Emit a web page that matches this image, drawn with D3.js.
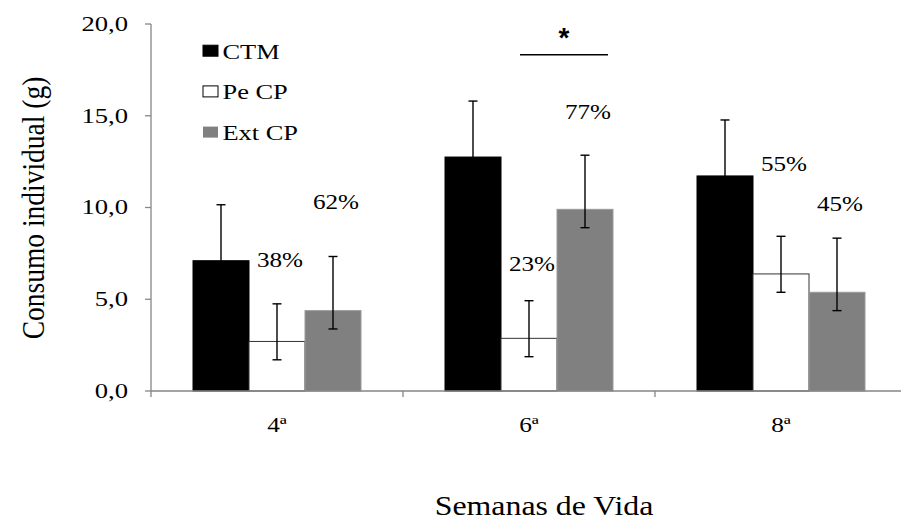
<!DOCTYPE html>
<html>
<head>
<meta charset="utf-8">
<script src="https://cdn.jsdelivr.net/npm/d3@7/dist/d3.min.js"></script>
<style>
	body { margin: 0; background: #fff; }
</style>
</head>
<body>
<div id="chart"></div>
<script>
// data
var weeks = ["4ª", "6ª", "8ª"];
var series = ["CTM", "Pe CP", "Ext CP"];
var ctm = [7.1, 12.75, 11.72];
var peCP = [2.7, 2.87, 6.38];
var extCP = [4.38, 9.9, 5.38];
var errUp = [3.05, 2.05, 2.95];    // per series
var errDown = [3.05, 1.0, 1.0];
var yTicks = [0, 5, 10, 15, 20];

// percent annotations
var pctText = ["38%", "62%", "23%", "77%", "55%", "45%"];
var pctWeek = ["4ª", "4ª", "6ª", "6ª", "8ª", "8ª"];
var pctSeries = ["Pe CP", "Ext CP", "Pe CP", "Ext CP", "Pe CP", "Ext CP"];
var pctValue = [6.77, 9.92, 6.54, 14.82, 12.0, 9.81];

var values = [ctm, peCP, extCP];
var colours = {"CTM": "#000000", "Pe CP": "#ffffff", "Ext CP": "#808080"};

var W = 901, H = 522;
var serif = "'Liberation Serif', 'Times New Roman', serif";

var svg = d3.select("#chart").append("svg")
	.attr("width", W)
	.attr("height", H)
	.attr("font-family", serif);

var x0 = d3.scaleBand()
	.domain(weeks)
	.range([151, 907]);

var x1 = d3.scaleBand()
	.domain(series)
	.range([0, x0.bandwidth()])
	.paddingOuter(0.75);

var y = d3.scaleLinear()
	.domain([0, 20])
	.range([391, 24]);

var axisCol = "#868686";

// stretched text helper (the picture is wider than tall)
function stext(g, x, yy, str, size, sx, anchor) {
	return g.append("text")
		.attr("transform", "translate(" + x + "," + yy + ") scale(" + sx + ",1)")
		.attr("text-anchor", anchor || "middle")
		.attr("font-family", serif)
		.attr("font-size", size)
		.attr("fill", "#000")
		.text(str);
}

// y axis
var yAxis = svg.append("g");
yAxis.append("line")
	.attr("x1", 151).attr("x2", 151)
	.attr("y1", y(20)).attr("y2", y(0))
	.attr("stroke", axisCol).attr("stroke-width", 1.3);
yTicks.forEach(function(t) {
	yAxis.append("line")
		.attr("x1", 145).attr("x2", 151)
		.attr("y1", y(t)).attr("y2", y(t))
		.attr("stroke", axisCol).attr("stroke-width", 1.3);
	stext(yAxis, 128, y(t) + 6.8, t.toFixed(1).replace(".", ","), 20.5, 1.3, "end");
});

// bars
var groups = svg.selectAll(".grp")
	.data(weeks)
	.enter().append("g")
		.attr("class", "grp")
		.attr("transform", function(d) { return "translate(" + x0(d) + ",0)"; });

groups.selectAll("rect")
	.data(function(d, i) { return series.map(function(s, j) { return {s: s, v: values[j][i], j: j}; }); })
	.enter().append("rect")
		.attr("x", function(d) { return x1(d.s); })
		.attr("width", x1.bandwidth())
		.attr("y", function(d) { return y(d.v); })
		.attr("height", function(d) { return y(0) - y(d.v); })
		.attr("fill", function(d) { return colours[d.s]; })
		.attr("stroke", function(d) { return d.s == "Pe CP" ? "#333" : (d.s == "CTM" ? "#000" : "#9a9a9a"); })
		.attr("stroke-width", 1);

// error bars
groups.selectAll(".err")
	.data(function(d, i) { return series.map(function(s, j) { return {s: s, v: values[j][i], j: j}; }); })
	.enter().append("g")
		.attr("class", "err")
		.each(function(d) {
			var g = d3.select(this),
				cx = x1(d.s) + x1.bandwidth() / 2,
				top = y(d.v + errUp[d.j]),
				bot = y(d.v - errDown[d.j]);
			g.append("line").attr("x1", cx).attr("x2", cx).attr("y1", top).attr("y2", bot);
			g.append("line").attr("x1", cx - 4.5).attr("x2", cx + 4.5).attr("y1", top).attr("y2", top);
			g.append("line").attr("x1", cx - 4.5).attr("x2", cx + 4.5).attr("y1", bot).attr("y2", bot);
			g.selectAll("line").attr("stroke", "#000").attr("stroke-width", 1.4);
		});

// x axis (drawn after bars)
var xAxis = svg.append("g");
xAxis.append("line")
	.attr("x1", 151).attr("x2", 907)
	.attr("y1", y(0)).attr("y2", y(0))
	.attr("stroke", axisCol).attr("stroke-width", 1.3);
weeks.concat(["end"]).forEach(function(w, i) {
	var xx = i < weeks.length ? x0(w) : x0(weeks[weeks.length - 1]) + x0.bandwidth();
	xAxis.append("line")
		.attr("x1", xx).attr("x2", xx)
		.attr("y1", y(0)).attr("y2", y(0) + 6)
		.attr("stroke", axisCol).attr("stroke-width", 1.3);
});
weeks.forEach(function(w) {
	stext(xAxis, x0(w) + x0.bandwidth() / 2, 432, w, 22, 1.15, "middle");
});

// percent labels
pctText.forEach(function(t, i) {
	var cx = x0(pctWeek[i]) + x1(pctSeries[i]) + x1.bandwidth() / 2;
	stext(svg, cx + 3, y(pctValue[i]), t, 21.5, 1.17, "middle");
});

// significance mark over 6ª
var sig = svg.append("g");
var sx0 = x0("6ª") + x1("Pe CP") + x1.bandwidth() / 2 - 9,
	sx1 = x0("6ª") + x1("Ext CP") + x1.bandwidth() / 2 + 23;
sig.append("line")
	.attr("x1", sx0).attr("x2", sx1)
	.attr("y1", y(18.33)).attr("y2", y(18.33))
	.attr("stroke", "#000").attr("stroke-width", 1.5);
sig.append("text")
	.attr("x", (sx0 + sx1) / 2)
	.attr("y", y(18.33) - 8)
	.attr("text-anchor", "middle")
	.attr("font-family", "'Liberation Sans', Arial, sans-serif")
	.attr("font-weight", "bold")
	.attr("font-size", 28)
	.text("*");

// legend
var legend = svg.append("g");
series.forEach(function(s, i) {
	var ly = 58.7 + i * 40.7;
	legend.append("rect")
		.attr("x", 203).attr("y", ly - 13.5)
		.attr("width", 15).attr("height", 11)
		.attr("fill", colours[s])
		.attr("stroke", s == "Ext CP" ? "none" : "#000")
		.attr("stroke-width", 1);
	stext(legend, 222.5, ly, s, 22, 1.2, "start");
});

// axis titles
svg.append("text")
	.attr("transform", "translate(44,208) rotate(-90) scale(1,1.15)")
	.attr("text-anchor", "middle")
	.attr("font-family", serif)
	.attr("font-size", 27.5)
	.text("Consumo individual (g)");

stext(svg, 544, 515, "Semanas de Vida", 27, 1.18, "middle");
</script>
</body>
</html>
